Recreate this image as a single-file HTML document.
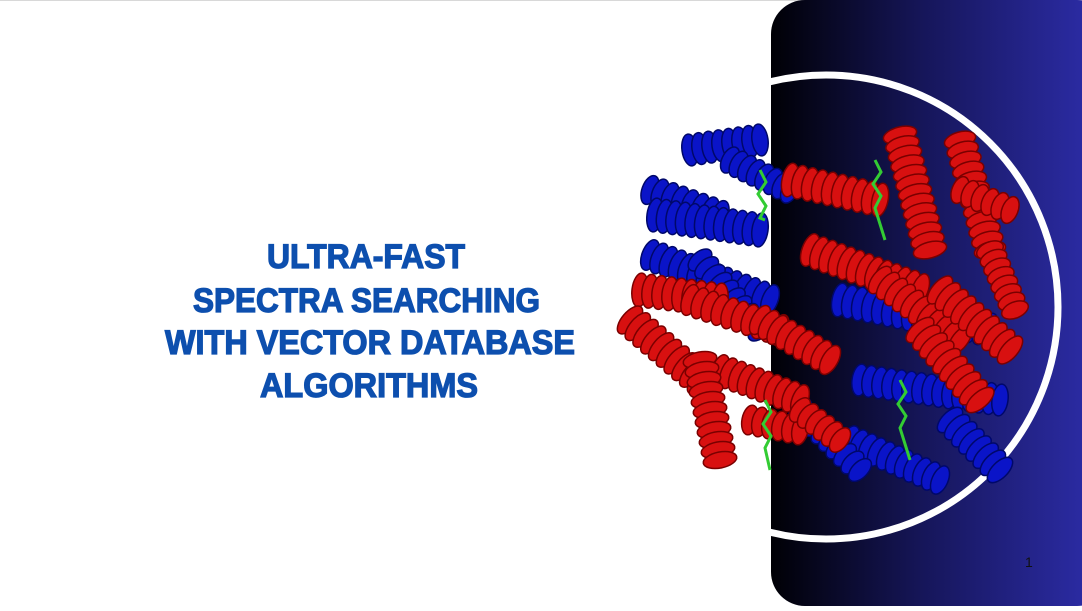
<!DOCTYPE html>
<html><head><meta charset="utf-8"><style>
html,body{margin:0;padding:0;background:#fff;}
body{width:1082px;height:606px;overflow:hidden;position:relative;font-family:"Liberation Sans",sans-serif;}
</style></head><body>
<svg width="1082" height="606" viewBox="0 0 1082 606">
<defs>
<linearGradient id="pg" x1="0" x2="1" y1="0" y2="0">
<stop offset="0" stop-color="#000005"/><stop offset="0.45" stop-color="#16165a"/><stop offset="1" stop-color="#2e2eae"/>
</linearGradient>
<clipPath id="pc"><rect x="771" y="0" width="340" height="606" rx="34"/></clipPath>
</defs>
<line x1="0" y1="0.5" x2="1082" y2="0.5" stroke="#d8d8d8"/>
<rect x="771" y="0" width="340" height="606" rx="34" fill="url(#pg)"/>
<circle cx="826" cy="307" r="232" fill="none" stroke="#fff" stroke-width="7" clip-path="url(#pc)"/>
<g id="protein"></g>
<g fill="#0d4fae" stroke="#0d4fae" stroke-width="1.3" font-family="Liberation Sans, sans-serif" font-weight="bold" font-size="34">
<text x="267" y="268" textLength="198" lengthAdjust="spacingAndGlyphs">ULTRA-FAST</text>
<text x="193" y="312" textLength="347" lengthAdjust="spacingAndGlyphs">SPECTRA SEARCHING</text>
<text x="165" y="354" textLength="410" lengthAdjust="spacingAndGlyphs">WITH VECTOR DATABASE</text>
<text x="260" y="397" textLength="218" lengthAdjust="spacingAndGlyphs">ALGORITHMS</text>
</g>
<text x="1025" y="567" font-size="14" fill="#111" font-family="Liberation Sans, sans-serif">1</text>
</svg>
<script>
var g=document.getElementById('protein');
var NS='http://www.w3.org/2000/svg';
var blue='#0a14c8',red='#d81010';
var helices=[
[690,150,760,140,16,blue],[650,190,720,215,15,blue],[655,215,760,230,17,blue],[730,160,790,190,14,blue],
[650,255,770,300,16,blue],[700,260,760,330,14,blue],
[840,300,990,330,17,blue],[860,380,1000,400,16,blue],[850,440,940,480,15,blue],[950,420,1000,470,16,blue],[800,410,860,470,14,blue],
[790,180,880,200,17,red],[900,135,930,250,17,red],[960,140,990,250,16,red],[960,190,1010,210,14,red],
[810,250,920,290,17,red],[880,280,960,340,16,red],[940,290,1010,350,17,red],[920,330,980,400,17,red],[990,250,1015,310,14,red],
[640,290,720,300,17,red],[630,320,700,380,17,red],[690,300,780,330,16,red],[760,320,830,360,16,red],
[720,370,800,400,16,red],[700,360,720,460,17,red],[750,420,800,430,15,red],[800,410,840,440,14,red]
];
helices.forEach(function(h){
  var n=Math.max(4,Math.round(Math.hypot(h[2]-h[0],h[3]-h[1])/10));
  var ang=Math.atan2(h[3]-h[1],h[2]-h[0])*180/Math.PI;
  for(var i=0;i<=n;i++){
    var x=h[0]+(h[2]-h[0])*i/n,y=h[1]+(h[3]-h[1])*i/n;
    var e=document.createElementNS(NS,'ellipse');
    
    
    e.setAttribute('cx',x);e.setAttribute('cy',y);
    e.setAttribute('rx',8);e.setAttribute('ry',h[4]);
    e.setAttribute('transform','rotate('+ang+' '+x+' '+y+')');
    e.setAttribute('fill',h[5]);
    e.setAttribute('stroke',h[5]==red?'#7a0000':'#00086a');
    e.setAttribute('stroke-width','1.5');
    g.appendChild(e);
  }
});
var heme=[[875,160,885,240],[760,170,765,220],[765,400,770,470],[900,380,910,460]];
heme.forEach(function(s){
  var p=document.createElementNS(NS,'path');
  
  
  p.setAttribute('d','M'+s[0]+' '+s[1]+' l6 12 l-8 12 l8 12 l-6 12 L'+s[2]+' '+s[3]);
  p.setAttribute('stroke','#33cc33');p.setAttribute('stroke-width','3');p.setAttribute('fill','none');
  g.appendChild(p);
});
</script>
</body></html>
